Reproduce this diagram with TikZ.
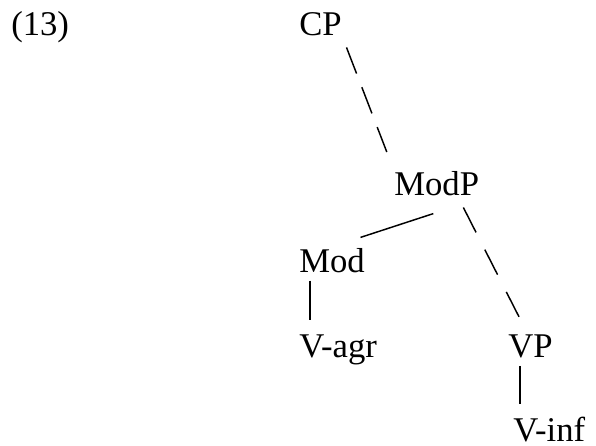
\documentclass[tikz,border=0pt]{standalone}
\usepackage{fontspec}
\setmainfont{Liberation Serif}
\usepackage{tikz}
\usetikzlibrary{positioning}

\begin{document}
\begin{tikzpicture}[x=0.75pt, y=-0.75pt,
                    every node/.style={font=\fontsize{26pt}{31pt}\selectfont, inner sep=0pt, anchor=base west},
                    edge/.style={draw, line width=1.1pt},
                    dashedge/.style={draw, line width=1.1pt, dash pattern=on 21pt off #1},
                    dashedge/.default=11pt]

        \useasboundingbox (0,0) rectangle (596,446);

        % Example number
        \node (num) at (11,35) {(13)};

        % Tree nodes
        \node (cp) at (299,35) {CP};
        \node (modp) at (394,195) {ModP};
        \node (mod) at (299,272) {Mod};
        \node (vagr) at (299,357) {V-agr};
        \node (vp) at (508,357) {VP};
        \node (vinf) at (513,441) {V-inf};

        % Branches
        \draw[dashedge, shorten <=9.5pt, shorten >=15pt] (cp.south east) -- (modp.north west);
        \draw[edge] ([xshift=-2.5pt, yshift=-13.5pt]modp.south) -- ([xshift=-3.4pt, yshift=7.7pt]mod.north east);
        \draw[dashedge=14.5pt, shorten <=10pt, shorten >=14.3pt] ([xshift=15.5pt]modp.south) -- ([xshift=-2pt]vp.north);
        \draw[edge, shorten <=6pt, shorten >=10.5pt] ([xshift=8.25pt]mod.south west) -- ([xshift=8.25pt]vagr.north west);
        \draw[edge, shorten <=6pt, shorten >=9pt] ([xshift=9pt]vp.south west) -- ([xshift=5.25pt]vinf.north west);

    \end{tikzpicture}
\end{document}
